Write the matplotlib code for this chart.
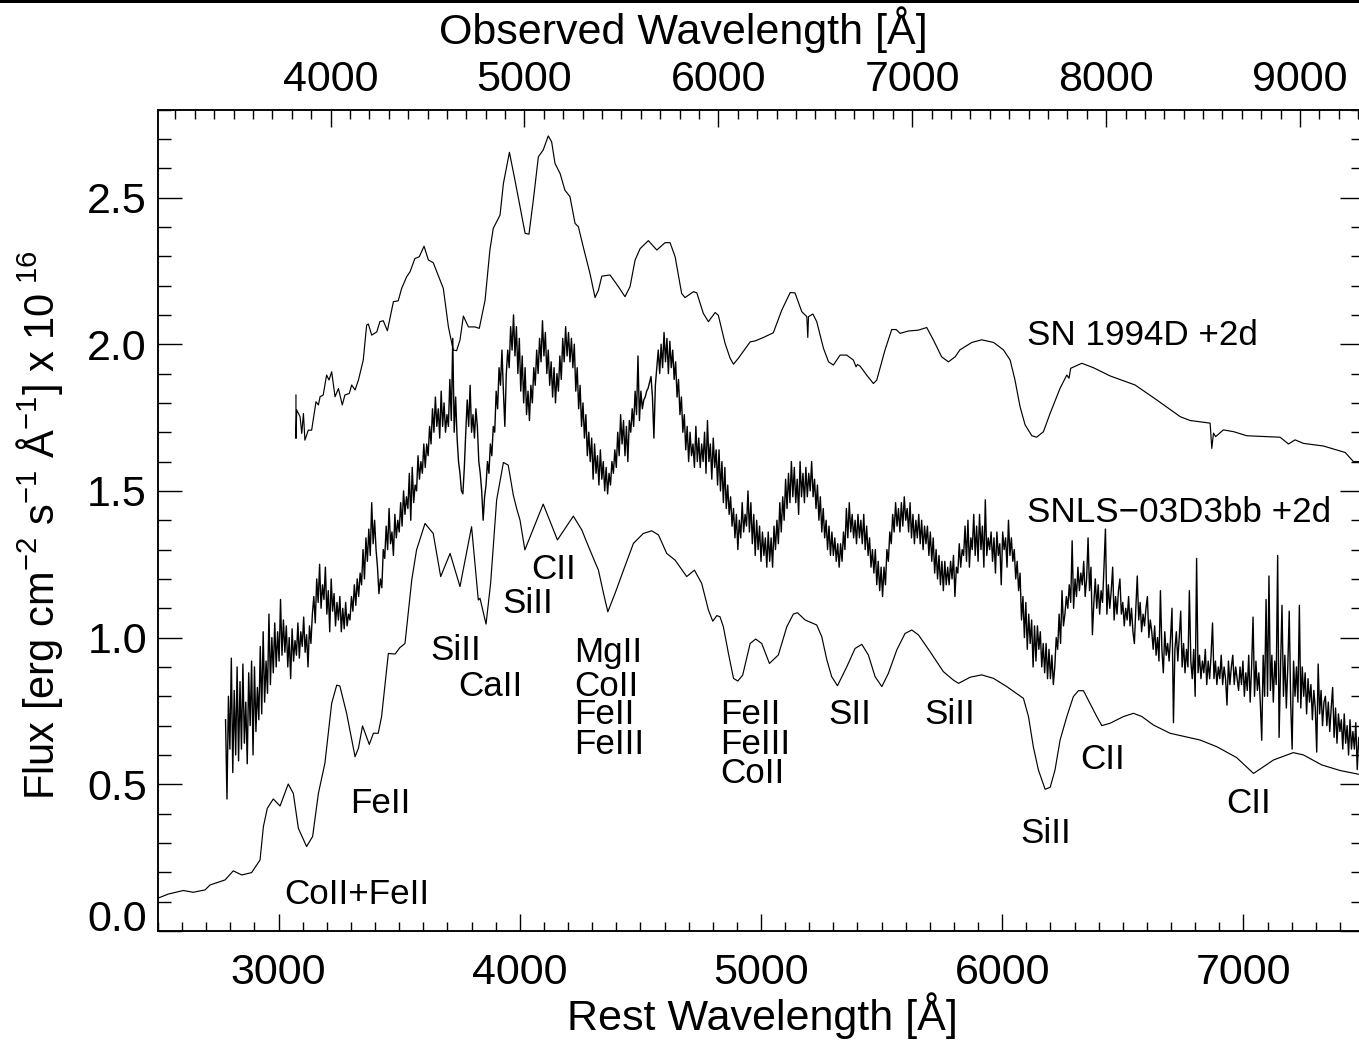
import numpy as np
import matplotlib
matplotlib.use('Agg')
import matplotlib.pyplot as plt
from matplotlib.patches import Rectangle
from matplotlib.ticker import MultipleLocator

plt.rcParams['font.family'] = ['Liberation Sans', 'DejaVu Sans']
plt.rcParams['mathtext.default'] = 'regular'

Z = 0.244

# SN 1994D +2d
wave_94d = [3072, 3072, 3075, 3089, 3096, 3103, 3109, 3123, 3137, 3155, 3165, 3172, 3185, 3199, 3209, 3220, 3234, 3248,
            3264, 3275, 3293, 3303, 3317, 3331, 3351, 3365, 3372, 3386, 3407, 3420, 3434, 3451, 3476, 3496, 3510, 3531,
            3545, 3565, 3583, 3603, 3621, 3641, 3683, 3704, 3724, 3738, 3752, 3766, 3787, 3814, 3832, 3856, 3876, 3890,
            3918, 3932, 3957, 3980, 4001, 4022, 4038, 4056, 4077, 4097, 4118, 4132, 4146, 4167, 4187, 4208, 4229, 4243,
            4263, 4291, 4312, 4326, 4340, 4374, 4409, 4436, 4457, 4478, 4499, 4533, 4568, 4602, 4623, 4644, 4671, 4685,
            4720, 4734, 4761, 4782, 4810, 4823, 4851, 4872, 4886, 4906, 4955, 4975, 5010, 5051, 5086, 5121, 5141, 5169,
            5190, 5194, 5197, 5215, 5231, 5259, 5280, 5300, 5328, 5355, 5383, 5394, 5400, 5411, 5438, 5466, 5480, 5514,
            5542, 5560, 5577, 5611, 5653, 5687, 5715, 5749, 5777, 5805, 5825, 5874, 5915, 5964, 6005, 6033, 6053, 6074,
            6095, 6123, 6143, 6171, 6199, 6240, 6268, 6277, 6284, 6330, 6378, 6447, 6551, 6641, 6738, 6779, 6862, 6869,
            6876, 6885, 6917, 6959, 7014, 7152, 7187, 7214, 7249, 7332, 7422, 7456, 7480, 7500]
flux_94d = [1.827, 1.679, 1.776, 1.753, 1.696, 1.764, 1.673, 1.707, 1.707, 1.804, 1.793, 1.821, 1.827, 1.895, 1.878, 1.906, 1.821, 1.849,
            1.793, 1.827, 1.832, 1.861, 1.844, 1.878, 1.946, 2.065, 2.069, 2.031, 2.042, 2.077, 2.080, 2.046, 2.145, 2.148, 2.190, 2.230,
            2.247, 2.292, 2.298, 2.334, 2.287, 2.278, 2.190, 2.059, 1.980, 1.978, 2.014, 2.096, 2.059, 2.059, 2.054, 2.150, 2.321, 2.395,
            2.440, 2.548, 2.654, 2.559, 2.468, 2.378, 2.375, 2.491, 2.639, 2.662, 2.710, 2.690, 2.616, 2.582, 2.525, 2.503, 2.412, 2.400,
            2.332, 2.241, 2.159, 2.184, 2.232, 2.236, 2.196, 2.162, 2.196, 2.287, 2.326, 2.353, 2.321, 2.346, 2.346, 2.298, 2.173, 2.159,
            2.179, 2.175, 2.105, 2.077, 2.108, 2.099, 2.003, 1.952, 1.932, 1.952, 2.008, 2.011, 2.023, 2.039, 2.116, 2.176, 2.175, 2.111,
            2.094, 2.023, 2.094, 2.103, 2.077, 1.986, 1.940, 1.929, 1.963, 1.963, 1.946, 1.923, 1.931, 1.925, 1.895, 1.866, 1.878, 1.980,
            2.050, 2.050, 2.037, 2.045, 2.048, 2.057, 2.014, 1.957, 1.940, 1.957, 1.981, 2.006, 2.015, 2.006, 1.981, 1.946, 1.878, 1.787,
            1.725, 1.688, 1.683, 1.702, 1.765, 1.850, 1.895, 1.884, 1.918, 1.935, 1.920, 1.892, 1.861, 1.810, 1.753, 1.740, 1.731, 1.645,
            1.697, 1.685, 1.708, 1.702, 1.688, 1.683, 1.660, 1.674, 1.662, 1.653, 1.631, 1.600, 1.600, 1.590]

# SNLS-03D3bb +2d, one value every 6 A from 2780 A
wave_03d3bb_start = 2780
wave_03d3bb_step = 6
flux_03d3bb = [
    .72, .45, .80, .62, .93, .54, .82, .60, .90, .58, .85, .62, .91, .64, .78, .57, .88, .70, .92, .60,
    .90, .68, .83, .72, .97, .74, 1.02, .78, .92, .81, 1.08, .84, 1.00, .88, 1.05, .90, 1.02, .92, 1.13, .94,
    1.06, .95, 1.04, .90, 1.00, .86, 1.03, .92, .99, .94, 1.05, .93, 1.02, .97, 1.07, .95, 1.01, .90, 1.04, .98,
    1.08, 1.14, 1.05, 1.20, 1.12, 1.25, 1.10, 1.18, 1.13, 1.24, 1.08, 1.16, 1.02, 1.20, 1.09, 1.15, 1.04, 1.12, 1.06, 1.14,
    1.02, 1.10, 1.03, 1.12, 1.04, 1.08, 1.06, 1.14, 1.09, 1.18, 1.11, 1.20, 1.14, 1.22, 1.18, 1.30, 1.20, 1.34, 1.26, 1.37,
    1.28, 1.46, 1.32, 1.40, 1.30, 1.24, 1.15, 1.20, 1.17, 1.30, 1.27, 1.38, 1.30, 1.44, 1.32, 1.36, 1.28, 1.42, 1.34, 1.40,
    1.36, 1.46, 1.38, 1.50, 1.42, 1.48, 1.44, 1.56, 1.40, 1.58, 1.46, 1.52, 1.50, 1.62, 1.54, 1.60, 1.56, 1.66, 1.58, 1.66,
    1.62, 1.72, 1.66, 1.78, 1.70, 1.82, 1.72, 1.78, 1.68, 1.84, 1.72, 1.80, 1.70, 1.76, 1.72, 1.88, 1.74, 2.02, 1.70, 1.82,
    1.68, 1.60, 1.56, 1.50, 1.49, 1.58, 1.70, 1.81, 1.72, 1.86, 1.70, 1.76, 1.68, 1.78, 1.72, 1.60, 1.56, 1.50, 1.40, 1.48,
    1.52, 1.60, 1.56, 1.66, 1.62, 1.72, 1.70, 1.84, 1.78, 1.92, 1.86, 1.98, 1.84, 1.72, 1.90, 1.98, 1.92, 2.06, 1.98, 2.10,
    1.96, 2.06, 1.90, 2.02, 1.84, 1.96, 1.80, 1.92, 1.76, 1.84, 1.74, 1.86, 1.80, 1.92, 1.86, 1.98, 1.90, 2.02, 1.94, 2.08,
    1.96, 2.04, 1.90, 1.98, 1.86, 1.94, 1.82, 1.92, 1.80, 1.90, 1.84, 1.96, 1.88, 2.02, 1.94, 2.06, 1.96, 2.04, 1.94, 2.02,
    1.92, 2.00, 1.84, 1.92, 1.78, 1.86, 1.72, 1.80, 1.68, 1.76, 1.62, 1.70, 1.60, 1.68, 1.54, 1.66, 1.56, 1.62, 1.52, 1.64,
    1.54, 1.60, 1.50, 1.58, 1.49, 1.56, 1.52, 1.60, 1.56, 1.64, 1.58, 1.70, 1.62, 1.76, 1.66, 1.74, 1.62, 1.72, 1.60, 1.74,
    1.70, 1.78, 1.72, 1.84, 1.76, 1.96, 1.74, 1.84, 1.78, 1.81, 1.82, 1.84, 1.85, 1.87, 1.89, 1.82, 1.68, 1.86, 1.92, 1.98,
    1.90, 2.00, 1.92, 2.04, 1.94, 2.02, 1.90, 2.01, 1.92, 1.98, 1.88, 1.94, 1.82, 1.88, 1.76, 1.82, 1.70, 1.76, 1.64, 1.72,
    1.60, 1.70, 1.62, 1.66, 1.58, 1.72, 1.60, 1.68, 1.58, 1.66, 1.60, 1.70, 1.56, 1.74, 1.60, 1.66, 1.54, 1.68, 1.58, 1.64,
    1.52, 1.64, 1.50, 1.60, 1.46, 1.58, 1.44, 1.52, 1.42, 1.48, 1.38, 1.44, 1.34, 1.42, 1.30, 1.40, 1.34, 1.46, 1.36, 1.42,
    1.38, 1.50, 1.36, 1.46, 1.32, 1.42, 1.28, 1.40, 1.30, 1.38, 1.26, 1.36, 1.28, 1.34, 1.24, 1.36, 1.26, 1.34, 1.24, 1.38,
    1.30, 1.40, 1.32, 1.46, 1.36, 1.48, 1.40, 1.54, 1.44, 1.56, 1.46, 1.60, 1.48, 1.58, 1.46, 1.54, 1.42, 1.60, 1.48, 1.56,
    1.46, 1.58, 1.48, 1.56, 1.50, 1.60, 1.48, 1.54, 1.44, 1.52, 1.40, 1.48, 1.36, 1.44, 1.34, 1.40, 1.30, 1.38, 1.28, 1.36,
    1.28, 1.34, 1.26, 1.32, 1.24, 1.32, 1.26, 1.36, 1.30, 1.44, 1.34, 1.46, 1.36, 1.42, 1.34, 1.40, 1.32, 1.42, 1.34, 1.40,
    1.32, 1.42, 1.30, 1.38, 1.28, 1.34, 1.24, 1.30, 1.22, 1.30, 1.18, 1.26, 1.16, 1.24, 1.14, 1.24, 1.18, 1.30, 1.26, 1.36,
    1.32, 1.42, 1.36, 1.46, 1.38, 1.44, 1.36, 1.46, 1.38, 1.48, 1.40, 1.44, 1.36, 1.46, 1.34, 1.42, 1.32, 1.40, 1.34, 1.42,
    1.32, 1.40, 1.30, 1.38, 1.32, 1.38, 1.28, 1.36, 1.26, 1.34, 1.22, 1.30, 1.20, 1.28, 1.18, 1.26, 1.16, 1.26, 1.18, 1.24,
    1.18, 1.26, 1.20, 1.28, 1.14, 1.24, 1.22, 1.32, 1.24, 1.30, 1.28, 1.38, 1.26, 1.40, 1.24, 1.34, 1.30, 1.42, 1.28, 1.38,
    1.26, 1.42, 1.30, 1.38, 1.24, 1.47, 1.28, 1.34, 1.30, 1.36, 1.26, 1.34, 1.22, 1.36, 1.28, 1.32, 1.18, 1.36, 1.30, 1.34,
    1.24, 1.40, 1.28, 1.34, 1.26, 1.30, 1.20, 1.26, 1.16, 1.22, 1.06, 1.14, 1.00, 1.12, .96, 1.08, .98, 1.06, .90, 1.04,
    .92, 1.04, .96, 1.02, .90, .98, .88, .98, .86, .96, .86, .94, .84, .90, 1.00, .96, 1.08, .98, 1.16, 1.04,
    1.08, 1.14, 1.10, 1.18, 1.12, 1.33, 1.10, 1.20, 1.14, 1.24, 1.16, 1.22, 1.18, 1.26, 1.14, 1.20, 1.34, 1.16, 1.24, 1.01,
    1.12, 1.20, 1.10, 1.18, 1.08, 1.16, 1.12, 1.24, 1.37, 1.08, 1.18, 1.10, 1.16, 1.24, 1.06, 1.14, 1.08, 1.16, 1.20, 1.08,
    1.12, 1.04, 1.10, 1.06, 1.14, 1.04, 1.10, 1.02, .98, 1.10, 1.21, 1.06, 1.12, 1.02, 1.08, 1.04, 1.10, 1.14, 1.00, 1.06,
    1.02, .96, 1.04, .94, 1.00, .92, 1.16, .96, .88, 1.02, .94, .98, .92, 1.00, 1.10, .71, .96, 1.02, .92, 1.00,
    1.09, .90, .98, .88, .96, .90, 1.16, .92, .86, .96, .80, 1.27, .88, .94, .86, .92, .88, .96, .84, .92,
    .86, .94, 1.05, .86, .92, .84, .90, .86, .94, .84, .90, .86, .77, .92, .84, .90, .94, .84, .90, .86,
    .82, .90, .84, .92, .80, .88, .82, .94, .78, .90, 1.07, .80, .92, .82, .88, .78, .65, .94, .80, 1.13,
    .80, 1.21, .82, .94, .78, .92, .84, 1.28, .66, .90, 1.11, .80, .94, .76, .90, 1.09, .78, .62, .92, .80,
    .90, .78, 1.11, .76, .90, .80, .88, .74, .86, .78, .84, .72, .82, .76, .61, .91, .74, .82, .70, .78,
    .80, .70, .78, .68, .76, .83, .66, .76, .64, .74, .68, .72, .62, .74, .64, .70, .60, .72, .62, .68,
    .62, .71, .55, .66, .60, .64, .56, .62]

# template spectrum at the bottom
wave_low = [2500, 2543, 2605, 2646, 2695, 2716, 2778, 2812, 2847, 2888, 2923, 2937, 2953, 2978, 3006, 3040, 3061, 3082,
            3116, 3141, 3165, 3192, 3220, 3241, 3254, 3282, 3317, 3331, 3348, 3376, 3393, 3413, 3427, 3455, 3483, 3503,
            3524, 3552, 3572, 3607, 3641, 3672, 3711, 3752, 3800, 3828, 3835, 3860, 3879, 3904, 3932, 3952, 3973, 3987,
            4001, 4021, 4097, 4156, 4222, 4257, 4291, 4326, 4347, 4365, 4395, 4430, 4471, 4512, 4547, 4575, 4609, 4644,
            4692, 4724, 4754, 4782, 4800, 4817, 4830, 4844, 4865, 4886, 4904, 4924, 4955, 4978, 5003, 5035, 5072, 5107,
            5134, 5151, 5183, 5231, 5252, 5273, 5293, 5317, 5356, 5390, 5418, 5445, 5473, 5501, 5528, 5563, 5597, 5625,
            5653, 5701, 5756, 5798, 5819, 5867, 5915, 5964, 6019, 6088, 6109, 6129, 6150, 6178, 6199, 6219, 6240, 6268,
            6295, 6316, 6337, 6364, 6392, 6413, 6447, 6503, 6544, 6579, 6627, 6696, 6820, 6890, 6972, 7042, 7125, 7207,
            7249, 7325, 7401, 7480, 7500]
flux_low = [.112, .126, .138, .132, .140, .157, .174, .205, .191, .199, .242, .356, .418, .450, .426, .501, .469, .350,
            .288, .322, .469, .572, .776, .838, .835, .742, .594, .623, .699, .636, .674, .674, .731, .946, .944, .966,
            .980, 1.196, 1.299, 1.389, 1.355, 1.208, 1.287, 1.174, 1.378, 1.128, 1.134, 1.046, 1.185, 1.469, 1.597, 1.588, 1.486, 1.440,
            1.400, 1.299, 1.455, 1.333, 1.414, 1.367, 1.298, 1.230, 1.151, 1.088, 1.151, 1.230, 1.321, 1.355, 1.364, 1.350, 1.287, 1.264,
            1.208, 1.230, 1.185, 1.094, 1.056, 1.075, 1.071, 1.037, .946, .861, .852, .872, .980, .995, .980, .912, .941, 1.037,
            1.080, 1.085, 1.060, 1.043, 1.003, .924, .867, .836, .901, .963, .977, .941, .867, .833, .878, .958, 1.014, 1.026,
            1.009, .952, .884, .855, .844, .865, .873, .861, .833, .793, .731, .628, .549, .483, .490, .549, .651, .731,
            .799, .819, .819, .776, .731, .700, .708, .731, .742, .731, .702, .674, .651, .628, .591, .537, .583, .608,
            .600, .566, .547, .534, .530]

# line identifications
line_names = ['CII', 'SiII', 'SiII', 'CaII', 'MgII', 'CoII', 'FeII', 'FeIII', 'FeII', 'FeIII', 'CoII', 'SII', 'SiII',
              'SiII', 'CII', 'CII', 'FeII', 'CoII+FeII', 'SN 1994D +2d', 'SNLS\u221203D3bb +2d']
line_wave = [4049, 3928, 3630, 3746, 4227, 4227, 4227, 4227, 4832, 4832, 4832, 5280, 5678,
             6076, 6325, 6930, 3298, 3025, 6103, 6103]
line_flux = [1.232, 1.116, .956, .833, .949, .833, .737, .635, .737, .635, .536, .737, .737,
             .332, .584, .434, .434, .124, 2.031, 1.428]

rest_ticks = [3000, 4000, 5000, 6000, 7000]
obs_ticks = [4000, 5000, 6000, 7000, 8000, 9000]
flux_ticks = [0.0, 0.5, 1.0, 1.5, 2.0, 2.5]

W, H = 1359, 1040
fig = plt.figure(figsize=(W / 100, H / 100), dpi=100)
# the right side of the frame runs just past the picture edge
ax = fig.add_axes([158 / W, 1 - 931 / H, (1364 - 158) / W, (931 - 109.5) / H])

wave_03d3bb = wave_03d3bb_start + wave_03d3bb_step * np.arange(len(flux_03d3bb))
ax.plot(wave_94d, flux_94d, color='k', lw=0.85)
ax.plot(wave_03d3bb, flux_03d3bb, color='k', lw=1.0)
ax.plot(wave_low, flux_low, color='k', lw=0.85)

ax.set_xlim(2500, 7500)
ax.set_ylim(0, 2.8)

ax.set_xticks(rest_ticks)
ax.xaxis.set_minor_locator(MultipleLocator(100))
ax.set_yticks(flux_ticks)
ax.set_yticklabels(['%.1f' % v for v in flux_ticks])
ax.yaxis.set_minor_locator(MultipleLocator(0.1))
ax.tick_params(axis='x', which='major', direction='in', length=12.2, width=1, labelsize=31, pad=15.5)
ax.tick_params(axis='x', which='minor', direction='in', length=6.2, width=1)
ax.tick_params(axis='y', which='major', direction='in', length=17.3, width=1, labelsize=31, pad=8, right=True)
ax.tick_params(axis='y', which='minor', direction='in', length=9.2, width=1, right=True)
ax.get_yticklabels()[0].set_verticalalignment('baseline')

top = ax.twiny()
top.set_xlim(2500 * (1 + Z), 7500 * (1 + Z))
top.set_xticks(obs_ticks)
top.xaxis.set_minor_locator(MultipleLocator(100))
top.tick_params(axis='x', which='major', direction='in', length=12.2, width=1, labelsize=31, pad=6.5)
top.tick_params(axis='x', which='minor', direction='in', length=6.2, width=1)

for s in list(ax.spines.values()) + list(top.spines.values()):
    s.set_linewidth(1.1)

for name, w, f in zip(line_names, line_wave, line_flux):
    ax.text(w, f, name, fontsize=25.2, ha='left', va='center')

fig.text(762 / W, 1 - 1016 / H, 'Rest Wavelength [\u00c5]', fontsize=31, ha='center', va='center')
fig.text(683 / W, 1 - 30 / H, 'Observed Wavelength [\u00c5]', fontsize=31, ha='center', va='center')
fig.text(40 / W, 1 - 525 / H, 'Flux [erg cm$^{-2}$ s$^{-1}$ \u00c5$^{-1}$] x 10$^{\\ 16}$', fontsize=30,
         rotation=90, ha='center', va='center')

# black rule along the top edge of the picture
fig.add_artist(Rectangle((0, 1 - 3 / H), 1, 3 / H, transform=fig.transFigure, color='k', lw=0))

fig.savefig('out.png', dpi=100)
